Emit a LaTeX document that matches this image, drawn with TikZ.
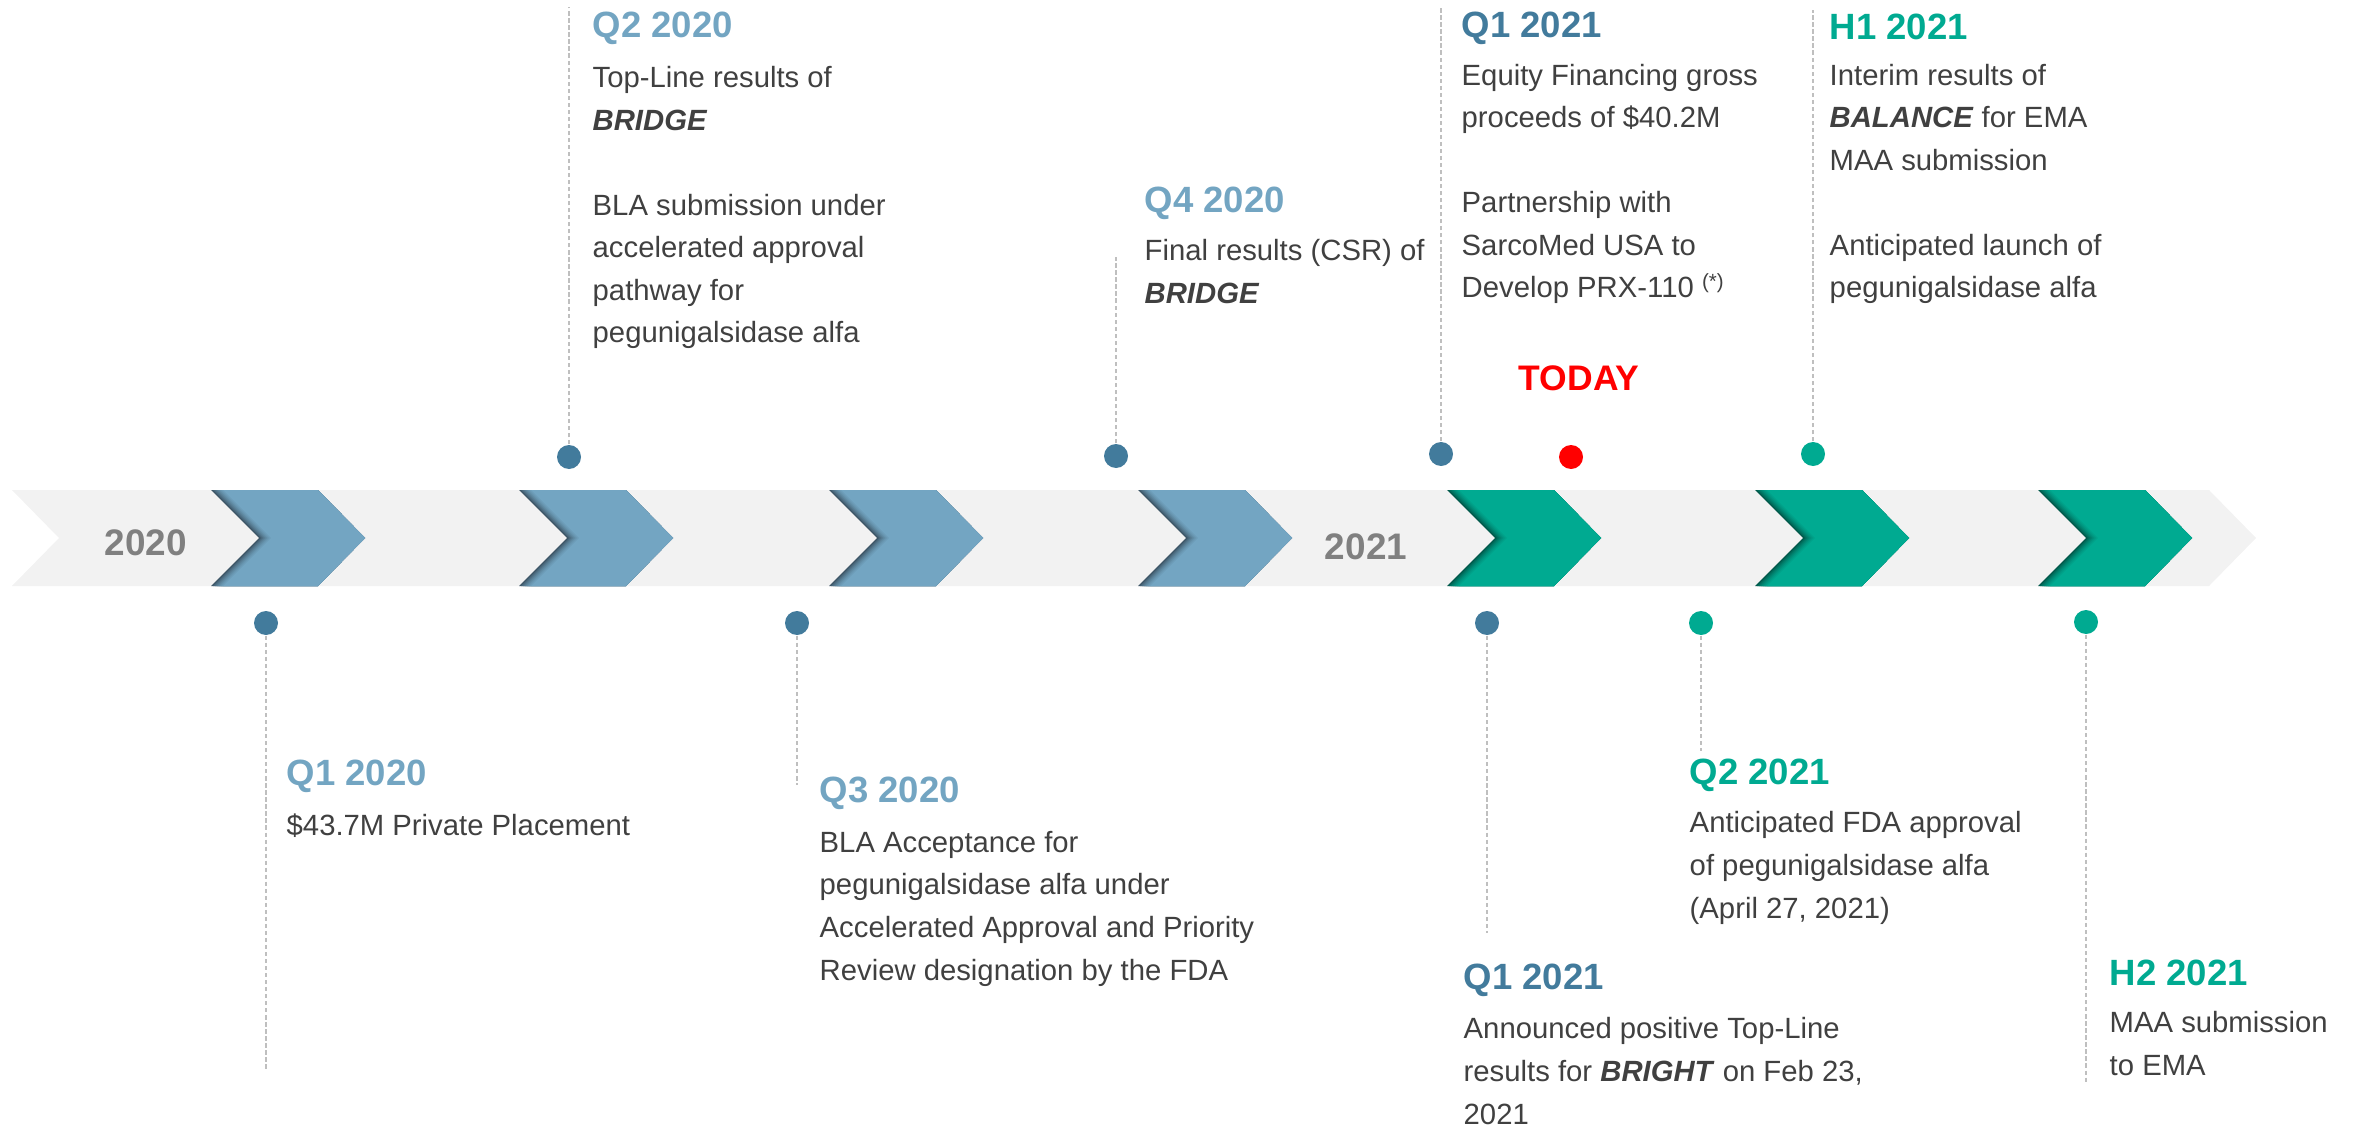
\documentclass[tikz,border=0pt]{standalone}
\usepackage{fontspec}
\setmainfont{Liberation Sans}

\definecolor{bandgray}{HTML}{F2F2F2}
\definecolor{chevblue}{HTML}{73A5C2}
\definecolor{chevbluedark}{HTML}{3C5566}
\definecolor{chevgreen}{HTML}{00AA91}
\definecolor{chevgreendark}{HTML}{00584A}
\definecolor{dotblue}{HTML}{427B9C}
\definecolor{bodygray}{HTML}{404040}
\definecolor{yeargray}{HTML}{808080}
\definecolor{stemgray}{HTML}{BFBFBF}

\tikzset{
  evhead/.style={anchor=west, inner sep=0pt, text=#1,
    font=\fontsize{10.4}{12}\selectfont\bfseries},
  % anchored at the baseline of the last line
  evbody/.style={anchor=base west, inner sep=0pt, align=left,
    text=bodygray, font=\fontsize{8.33}{12.1}\selectfont},
  evdot/.style={circle, inner sep=0pt, minimum size=0.24cm, fill=#1},
  evstem/.style={draw=stemgray, line width=0.3pt,
    dash pattern=on 1.2pt off 0.8pt},
  yearlbl/.style={inner sep=0pt, text=yeargray,
    font=\fontsize{10.5}{12}\selectfont\bfseries},
}

\begin{document}
\begin{tikzpicture}
\useasboundingbox (0,0) rectangle (23.58,-11.26);
\newcommand{\chevshape}[1]{%
    (#1,-4.90) -- ++(1.07,0) -- ++(0.47,-0.48)
    -- ++(-0.47,-0.48) -- ++(-1.07,0) -- ++(0.48,0.48) -- cycle}
\newcommand{\timechev}[3]{%
    \begin{scope}
        \clip \chevshape{#1};
        \fill[#3] \chevshape{#1};
        \foreach \s/\m in {0.02/25,0.04/45,0.06/62,0.08/77,0.10/89,0.12/100}
            \fill[#2!\m!#3, xshift=\s cm] \chevshape{#1};
    \end{scope}}

% band and chevrons
\fill[bandgray] (0.12,-4.90) -- (22.09,-4.90) -- (22.56,-5.38)
    -- (22.09,-5.86) -- (0.12,-5.86) -- (0.59,-5.38) -- cycle;
\foreach \x in {2.11,5.19,8.29,11.38}
    \timechev{\x}{chevblue}{chevbluedark};
\foreach \x in {14.47,17.55,20.38}
    \timechev{\x}{chevgreen}{chevgreendark};
\node[yearlbl] (y2020) at (1.46,-5.43) {2020};
\node[yearlbl] (y2021) at (13.66,-5.47) {2021};

% dots
\node[evdot=dotblue] (d1) at (2.66,-6.23) {};
\node[evdot=dotblue] (d2) at (5.69,-4.57) {};
\node[evdot=dotblue] (d3) at (7.97,-6.23) {};
\node[evdot=dotblue] (d4) at (11.16,-4.56) {};
\node[evdot=dotblue] (d5) at (14.41,-4.54) {};
\node[evdot=red] (dtoday) at (15.71,-4.57) {};
\node[evdot=dotblue] (d6) at (14.87,-6.23) {};
\node[evdot=chevgreen] (d7) at (18.13,-4.54) {};
\node[evdot=chevgreen] (d8) at (17.01,-6.23) {};
\node[evdot=chevgreen] (d9) at (20.86,-6.22) {};

% stems
\coordinate (s1) at (2.66,-10.69);
\coordinate (s2) at (5.69,-0.07);
\coordinate (s3) at (7.97,-7.85);
\coordinate (s4) at (11.16,-2.57);
\coordinate (s5) at (14.41,-0.07);
\coordinate (s6) at (14.87,-9.33);
\coordinate (s7) at (18.13,-0.10);
\coordinate (s8) at (17.01,-7.51);
\coordinate (s9) at (20.86,-10.83);
\foreach \i in {1,...,9}
    \draw[evstem] (d\i) -- (s\i);

% events above
\node[evhead=chevblue] (q2a) at (5.92,-0.28) {Q2 2020};
\node[evbody] (q2abody) at (5.92,-3.43) {Top-Line results of\\
    \textbf{\textit{BRIDGE}}\\[12.1pt]
    BLA submission under\\accelerated approval\\pathway for\\
    pegunigalsidase alfa};
\node[evhead=chevblue] (q4a) at (11.44,-2.03) {Q4 2020};
\node[evbody] (q4abody) at (11.44,-3.03) {Final results (CSR) of\\
    \textbf{\textit{BRIDGE}}};
\node[evhead=dotblue] (q1b) at (14.61,-0.28) {Q1 2021};
\node[evbody] (q1bbody) at (14.61,-2.98) {Equity Financing gross\\
    proceeds of \$40.2M\\[12.1pt]
    Partnership with\\SarcoMed USA to\\
    Develop PRX-110 \textsuperscript{(*)}};
\node[evhead=chevgreen] (h1b) at (18.29,-0.27) {H1 2021};
\node[evbody] (h1bbody) at (18.29,-2.98) {Interim results of\\
    \textbf{\textit{BALANCE}} for EMA\\MAA submission\\[12.1pt]
    Anticipated launch of\\pegunigalsidase alfa};
\node[inner sep=0pt, text=red, font=\fontsize{10.1}{12}\selectfont\bfseries]
    (today) at (15.79,-3.78) {TODAY};

% events below
\node[evhead=chevblue] (q1a) at (2.86,-7.76) {Q1 2020};
\node[evbody] (q1abody) at (2.86,-8.35) {\$43.7M Private Placement};
\node[evhead=chevblue] (q3a) at (8.19,-7.93) {Q3 2020};
\node[evbody] (q3abody) at (8.19,-9.80) {BLA Acceptance for\\
    pegunigalsidase alfa under\\Accelerated Approval and Priority\\
    Review designation by the FDA};
\node[evhead=dotblue] (q1c) at (14.63,-9.80) {Q1 2021};
\node[evbody] (q1cbody) at (14.63,-11.24) {Announced positive Top-Line\\
    results for \textbf{\textit{BRIGHT}} on Feb 23,\\2021};
\node[evhead=chevgreen] (q2b) at (16.89,-7.75) {Q2 2021};
\node[evbody] (q2bbody) at (16.89,-9.18) {Anticipated FDA approval\\
    of pegunigalsidase alfa\\(April 27, 2021)};
\node[evhead=chevgreen] (h2b) at (21.09,-9.73) {H2 2021};
\node[evbody] (h2bbody) at (21.09,-10.75) {MAA submission\\to EMA};
\end{tikzpicture}
\end{document}
